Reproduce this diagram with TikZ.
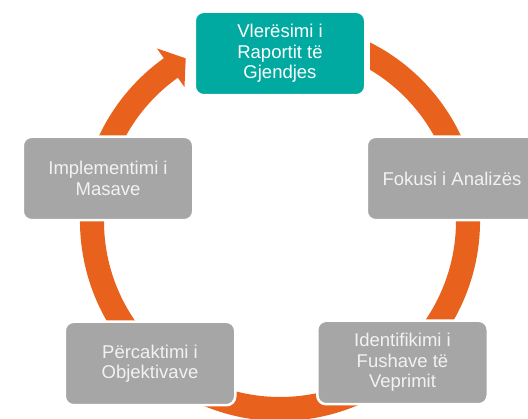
\documentclass[tikz,border=0pt]{standalone}
\usepackage{fontspec}
\setmainfont{Liberation Sans}
\definecolor{ring}{RGB}{233,98,29}
\definecolor{teal1}{RGB}{0,170,160}
\definecolor{gbox}{RGB}{166,166,166}
\definecolor{txt}{RGB}{242,242,242}
\begin{document}
\begin{tikzpicture}[x=1pt,y=1pt,
  box/.style={rounded corners=9pt, draw=white, line width=2.5pt, minimum width=170.5pt, minimum height=83.5pt, align=center, text=txt, font=\fontsize{18.5}{20.5}\selectfont, inner sep=0pt},
  gray box/.style={box, fill=gbox},
  teal box/.style={box, fill=teal1, text=white}]
\useasboundingbox (0,0) rectangle (528,419);
\clip (0,0) rectangle (528,419);
\fill[ring] ([shift={(280,198)}]63.2:200) arc[start angle=63.2, end angle=-234.5, radius=200]
  -- ([shift={(280,198)}]125.5:212) -- ([shift={(280,198)}]120.1:188)
  -- ([shift={(280,198)}]125.5:164.5) -- ([shift={(280,198)}]125.5:176)
  arc[start angle=125.5, end angle=419.2, radius=176] -- cycle;
\node[teal box] (top) at (280,365.5) {Vlerësimi i\\Raportit të\\Gjendjes};
\node[gray box] (right) at (452,240.5) {Fokusi i Analizës};
\node[gray box] (bright) at (402.5,56.5) {Identifikimi i\\Fushave të\\Veprimit};
\node[gray box] (bleft) at (150,55.5) {Përcaktimi i\\Objektivave};
\node[gray box] (left) at (108,240.5) {Implementimi i\\Masave};
\end{tikzpicture}
\end{document}
